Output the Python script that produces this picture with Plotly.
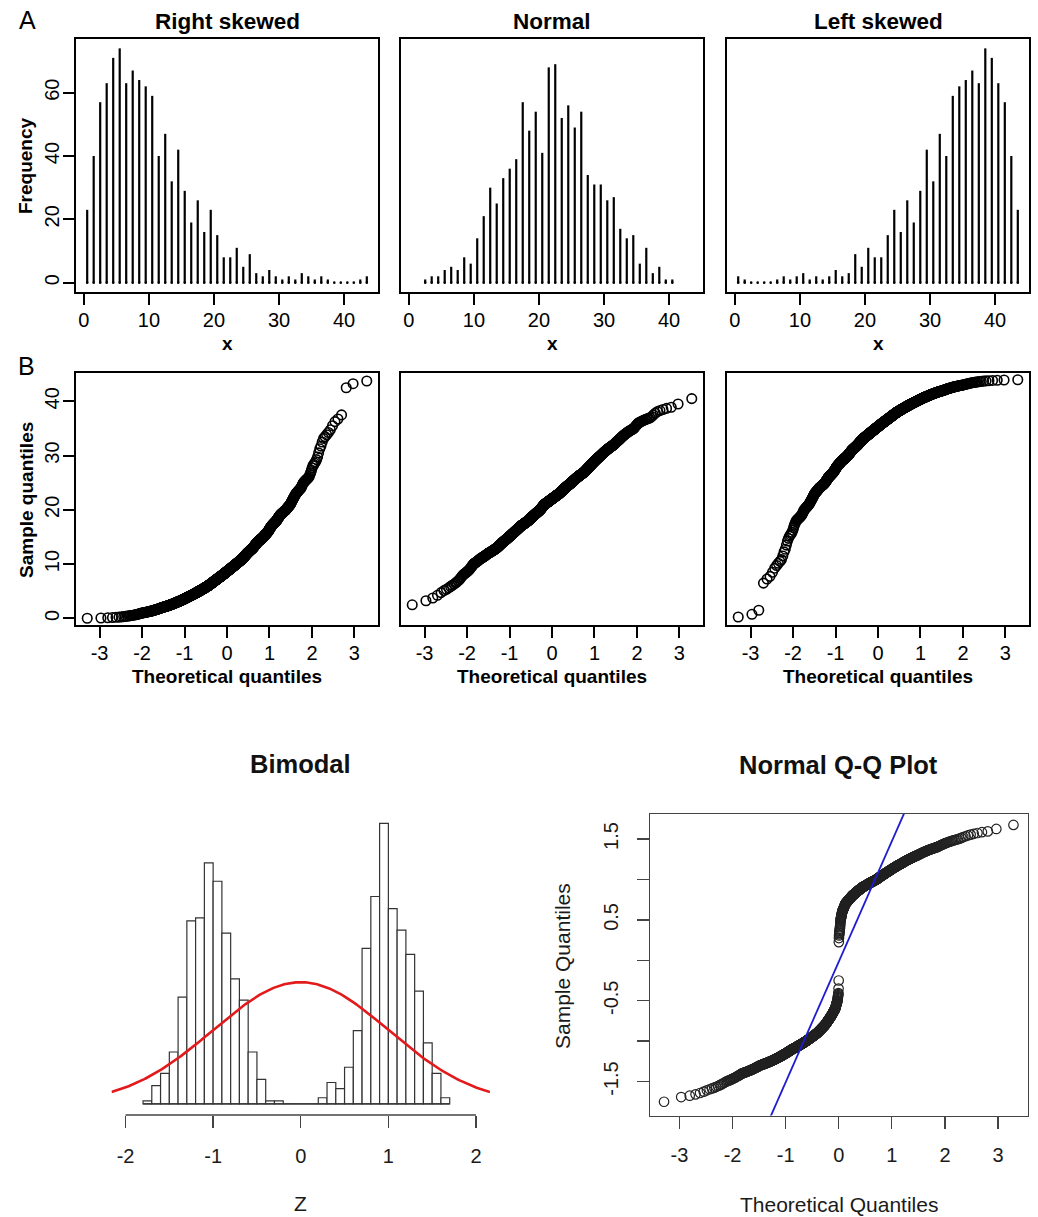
import numpy as np
import plotly.graph_objects as go
from statistics import NormalDist

W, H = 1038, 1217

# ---------------- data ----------------
# Panel A: frequencies per unit-wide bin, plotted at bin mid-points
unit_bins = [k + 0.5 for k in range(44)]                     # 0.5 ... 43.5
right_counts = [23, 40, 57, 63, 71, 74, 63, 67, 64, 62, 59, 40, 47, 32, 42, 29,
                19, 26, 16, 23, 15, 8, 8, 11, 5, 9, 3, 2, 4, 2, 1, 2, 1, 3, 2, 1,
                2, 1, 0, 0, 0, 0, 1, 2]
normal_bins = [k + 0.5 for k in range(2, 41)]                # 2.5 ... 40.5
normal_counts = [1, 2, 2, 4, 5, 4, 8, 6, 14, 21, 30, 25, 33, 36, 39, 57, 48, 54,
                 41, 68, 69, 52, 56, 49, 54, 34, 31, 31, 26, 27, 17, 14, 15, 6,
                 11, 3, 5, 1, 1]
left_counts = [2, 1, 0, 0, 0, 0, 1, 2, 1, 2, 3, 1, 2, 1, 2, 4, 2, 3, 9, 5, 11, 8,
               8, 15, 23, 16, 26, 19, 29, 42, 32, 47, 40, 59, 62, 64, 67, 63, 74,
               71, 63, 57, 40, 23]

# Bottom: bimodal histogram (bin edges, width 0.1) and counts (n = 1000)
bim_edges = [-1.8, -1.7, -1.6, -1.5, -1.4, -1.3, -1.2, -1.1, -1.0, -0.9, -0.8,
             -0.7, -0.6, -0.5, -0.4, -0.3, -0.2, -0.1, 0.0, 0.1, 0.2, 0.3, 0.4,
             0.5, 0.6, 0.7, 0.8, 0.9, 1.0, 1.1, 1.2, 1.3, 1.4, 1.5, 1.6, 1.7]
bim_counts = [1, 6, 10, 17, 35, 60, 61, 79, 73, 56, 41, 34, 17, 8, 1, 1,
              0, 0, 0, 0,
              2, 7, 5, 12, 24, 51, 68, 92, 64, 57, 49, 37, 20, 10, 2]
curve_mean, curve_sd = 0.0, 1.0

hist_xticks = [0, 10, 20, 30, 40]
freq_yticks = [0, 20, 40, 60]
qq_xticks = [-3, -2, -1, 0, 1, 2, 3]
qq_yticks = [0, 10, 20, 30, 40]
bim_xticks = [-2, -1, 0, 1, 2]
qq2_yticks = [-1.5, -1, -0.5, 0, 0.5, 1, 1.5]
qq2_ylabels = ["-1.5", "", "-0.5", "", "0.5", "", "1.5"]

panel_titles = ["Right skewed", "Normal", "Left skewed"]

# ---------------- helpers ----------------
ND = NormalDist()


def sample_from_bins(lows, width, counts):
    vals = []
    for lo, c in zip(lows, counts):
        for j in range(c):
            vals.append(lo + (j + 0.5) / c * width)
    return np.sort(np.array(vals))


def theo_quantiles(n):
    a = 3 / 8 if n <= 10 else 0.5
    return np.array([ND.inv_cdf((i - a) / (n + 1 - 2 * a)) for i in range(1, n + 1)])


def spikes(xs, hs):
    X, Y = [], []
    for x, h in zip(xs, hs):
        X += [x, x, None]
        Y += [0, h, None]
    return X, Y


def labels(vals):
    return [str(v) for v in vals]


def dx(px):
    return px / W


def dy(py):
    return 1 - py / H


FONT = "Liberation Sans"

fig = go.Figure()

# ---------------- Row A: frequency spike plots ----------------
hist_sets = [(unit_bins, right_counts), (normal_bins, normal_counts), (unit_bins, left_counts)]
for i, (xs, hs) in enumerate(hist_sets, start=1):
    X, Y = spikes(xs, hs)
    fig.add_trace(go.Scatter(x=X, y=Y, mode="lines", line=dict(color="black", width=2.2),
                             xaxis=f"x{i}", yaxis=f"y{i}", hoverinfo="skip"))
    fig.add_trace(go.Scatter(x=xs, y=[0] * len(xs), mode="markers",
                             marker=dict(color="black", size=2.6),
                             xaxis=f"x{i}", yaxis=f"y{i}", hoverinfo="skip"))

# ---------------- Row B: Q-Q plots ----------------
lows = [m - 0.5 for m in unit_bins]
nlows = [m - 0.5 for m in normal_bins]
qq_samples = [sample_from_bins(lows, 1.0, right_counts),
              sample_from_bins(nlows, 1.0, normal_counts),
              sample_from_bins(lows, 1.0, left_counts)]
for i, s in enumerate(qq_samples, start=4):
    t = theo_quantiles(len(s))
    fig.add_trace(go.Scatter(x=t, y=s, mode="markers",
                             marker=dict(symbol="circle-open", size=9.5, color="black",
                                         line=dict(width=1.6, color="black")),
                             xaxis=f"x{i}", yaxis=f"y{i}", hoverinfo="skip"))

# ---------------- Bottom left: bimodal histogram ----------------
n_bim = sum(bim_counts)
bw = [round(b - a, 6) for a, b in zip(bim_edges[:-1], bim_edges[1:])]
mids = [(a + b) / 2 for a, b in zip(bim_edges[:-1], bim_edges[1:])]
dens = [c / (n_bim * w) for c, w in zip(bim_counts, bw)]
fig.add_trace(go.Scatter(x=[bim_edges[0], bim_edges[-1]], y=[0, 0], mode="lines",
                         line=dict(color="#333333", width=1.2), xaxis="x7", yaxis="y7",
                         hoverinfo="skip"))
fig.add_trace(go.Bar(x=mids, y=dens, width=bw, marker=dict(color="white",
                     line=dict(color="#333333", width=1.2)), xaxis="x7", yaxis="y7",
                     hoverinfo="skip"))
xr7 = [-2.16, 2.16]
cx = np.linspace(xr7[0], xr7[1], 301)
cy = [ND.pdf((v - curve_mean) / curve_sd) / curve_sd for v in cx]
fig.add_trace(go.Scatter(x=cx, y=cy, mode="lines", line=dict(color="#e31a1c", width=2.6),
                         xaxis="x7", yaxis="y7", hoverinfo="skip"))

# ---------------- Bottom right: Normal Q-Q plot ----------------
bim_sample = sample_from_bins(bim_edges[:-1], 0.1, bim_counts)
bt = theo_quantiles(len(bim_sample))
fig.add_trace(go.Scatter(x=bt, y=bim_sample, mode="markers",
                         marker=dict(symbol="circle-open", size=9.5, color="#222222",
                                     line=dict(width=1.2, color="#222222")),
                         xaxis="x8", yaxis="y8", hoverinfo="skip"))
yq = np.quantile(bim_sample, [0.25, 0.75])
xq = [ND.inv_cdf(0.25), ND.inv_cdf(0.75)]
slope = (yq[1] - yq[0]) / (xq[1] - xq[0])
inter = yq[0] - slope * xq[0]
lx = [-4, 4]
fig.add_trace(go.Scatter(x=lx, y=[inter + slope * v for v in lx], mode="lines",
                         line=dict(color="#1c1cd0", width=1.8), xaxis="x8", yaxis="y8",
                         hoverinfo="skip"))

# ---------------- axes ----------------
tickfont = dict(family=FONT, size=20, color="black")
rbox = dict(showline=True, mirror=True, linewidth=2, linecolor="black", showgrid=False,
            zeroline=False, ticks="outside", ticklen=11, tickwidth=2, tickcolor="black",
            tickfont=tickfont, fixedrange=True)

cols = [(76, 378), (401, 703), (727, 1029)]
rowA = (39, 292)
rowB = (373, 625)
layout = {}
for j, (x0, x1) in enumerate(cols):
    ia = j + 1
    ib = j + 4
    layout[f"xaxis{ia}"] = dict(rbox, domain=[dx(x0), dx(x1)], anchor=f"y{ia}",
                                range=[-1.22, 45.22], tickvals=hist_xticks,
                                ticktext=labels(hist_xticks), ticklabelstandoff=-2)
    layout[f"yaxis{ia}"] = dict(rbox, domain=[dy(rowA[1]), dy(rowA[0])], anchor=f"x{ia}",
                                range=[-2.96, 76.96], tickvals=freq_yticks,
                                ticktext=labels(freq_yticks), tickangle=-90,
                                ticklabelstandoff=-4)
    layout[f"xaxis{ib}"] = dict(rbox, domain=[dx(x0), dx(x1)], anchor=f"y{ib}",
                                range=[-3.555, 3.555], tickvals=qq_xticks,
                                ticktext=labels(qq_xticks), ticklabelstandoff=-2)
    layout[f"yaxis{ib}"] = dict(rbox, domain=[dy(rowB[1]), dy(rowB[0])], anchor=f"x{ib}",
                                range=[-1.22, 45.22], tickvals=qq_yticks,
                                ticktext=labels(qq_yticks), tickangle=-90,
                                ticklabelstandoff=-4)
    if j > 0:
        for k in (ia, ib):
            layout[f"yaxis{k}"].update(ticks="", showticklabels=False)

gfont = dict(family=FONT, size=20, color="#1a1a1a")
layout["xaxis7"] = dict(domain=[dx(111.5), dx(490)], anchor="y7", range=xr7,
                        showline=False, showgrid=False, zeroline=False, ticks="outside",
                        ticklen=12, tickwidth=1.3, tickcolor="#444444", tickvals=bim_xticks,
                        ticktext=labels(bim_xticks), tickfont=gfont, ticklabelstandoff=11,
                        fixedrange=True)
layout["yaxis7"] = dict(domain=[dy(1115), dy(814)], anchor="x7", range=[-0.0366, 0.9506],
                        visible=False, fixedrange=True)
layout["xaxis8"] = dict(domain=[dx(650), dx(1027.5)], anchor="y8", range=[-3.555, 3.555],
                        showline=True, mirror=True, linewidth=1.3, linecolor="#444444",
                        showgrid=False, zeroline=False, ticks="outside", ticklen=12,
                        tickwidth=1.3, tickcolor="#444444", tickvals=qq_xticks,
                        ticktext=labels(qq_xticks), tickfont=gfont, ticklabelstandoff=9,
                        fixedrange=True)
layout["yaxis8"] = dict(domain=[dy(1115.5), dy(814)], anchor="x8", range=[-1.92, 1.81],
                        showline=True, mirror=True, linewidth=1.3, linecolor="#444444",
                        showgrid=False, zeroline=False, ticks="outside", ticklen=12,
                        tickwidth=1.3, tickcolor="#444444", tickvals=qq2_yticks,
                        ticktext=qq2_ylabels, tickangle=-90, tickfont=gfont,
                        ticklabelstandoff=11, fixedrange=True)

# axis line of the bimodal histogram spans the first to last tick only
shapes = [dict(type="line", xref="x7", yref="y7 domain", x0=min(bim_xticks),
               x1=max(bim_xticks), y0=0, y1=0, line=dict(color="#444444", width=1.3))]

# ---------------- text ----------------
ann = []


def text(s, x, y, size, bold=False, angle=0, color="black"):
    ann.append(dict(text=s, x=dx(x), y=dy(y), xref="paper", yref="paper",
                    xanchor="center", yanchor="middle", showarrow=False, textangle=angle,
                    font=dict(family=FONT, size=size, color=color,
                              weight="bold" if bold else "normal")))


for (x0, x1), t in zip(cols, panel_titles):
    c = (x0 + x1) / 2
    text(t, c, 22, 22.5, bold=True)
    text("x", c, 344, 19, bold=True)
    text("Theoretical quantiles", c, 676, 19, bold=True)
text("Frequency", 26, 166, 19, bold=True, angle=-90)
text("Sample quantiles", 26, 500, 19, bold=True, angle=-90)
text("A", 27, 20, 25)
text("B", 26, 366, 25)

text("Bimodal", 300.5, 764, 25.5, bold=True, color="#111111")
text("Z", 300.7, 1203, 21, color="#1a1a1a")
text("Normal Q-Q Plot", 838.7, 765, 25.5, bold=True, color="#111111")
text("Theoretical Quantiles", 838.7, 1204, 21, color="#1a1a1a")
text("Sample Quantiles", 562, 966, 21, angle=-90, color="#1a1a1a")

fig.update_layout(width=W, height=H, margin=dict(l=0, r=0, t=0, b=0),
                  paper_bgcolor="white", plot_bgcolor="white", showlegend=False,
                  annotations=ann, shapes=shapes, **layout)

fig.write_html("out.html", config={"displayModeBar": False, "staticPlot": True},
               post_script="document.body.style.margin='0px';")
